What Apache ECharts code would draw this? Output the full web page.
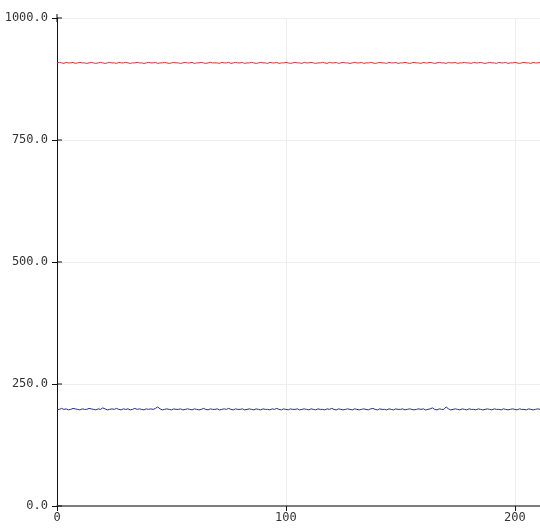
<!DOCTYPE html>
<html>
    <head>
        <meta charset="utf-8">
        <script src="https://cdn.jsdelivr.net/npm/echarts@6/dist/echarts.min.js"></script>
    </head>
    <body>
        <style>
            html, body, #main {
                width: 100%;
                height: 100%;
                margin: 0;
                background: #fff;
            }
        </style>
        <div id="main"></div>

        <script>
            // readings, one per sample (x = sample index)
            var redValues = [
                908,909,908,907,909,908,908,909,907,908,
                909,908,908,907,908,909,908,907,908,909,
                908,907,908,909,908,908,907,909,908,908,
                909,908,907,908,908,909,908,908,907,908,
                909,908,908,909,907,908,908,909,908,907,
                908,909,908,908,907,908,909,908,908,909,
                907,908,908,909,908,907,908,909,908,908,
                908,907,909,908,908,909,907,908,909,908,
                908,909,907,908,908,909,908,907,908,909,
                908,908,907,909,908,908,909,907,908,908,
                909,908,907,908,909,908,908,907,909,908,
                908,909,908,907,908,908,909,908,907,909,
                908,908,909,907,908,909,908,908,907,908,
                909,908,908,909,907,908,908,909,908,907,
                908,909,908,908,907,909,908,908,909,907,
                908,908,909,908,907,908,909,908,908,907,
                909,908,908,909,908,907,908,909,908,908,
                907,909,908,908,909,907,908,908,909,908,
                908,907,909,908,908,909,908,907,908,909,
                908,908,907,909,908,908,909,907,908,908,
                909,908,907,908,909,908,908,907,909,908,
                908,909
            ];

            var blueValues = [
                197,198,200,198,199,197,198,200,199,198,
                197,199,198,198,200,199,198,197,199,198,
                201,199,197,198,199,198,200,198,197,199,
                198,199,197,198,200,198,199,198,197,199,
                198,199,198,200,203,199,197,198,199,198,
                197,199,198,198,199,197,198,199,198,197,
                199,198,197,198,200,198,197,199,198,198,
                199,197,198,199,198,200,198,197,199,198,
                198,199,197,198,199,198,197,199,198,197,
                199,198,198,197,199,198,200,198,197,199,
                198,197,199,198,198,199,197,198,199,198,
                197,199,198,197,199,198,198,197,199,198,
                200,198,197,199,198,197,198,199,198,197,
                199,198,197,198,199,198,197,199,200,198,
                197,199,198,198,197,199,198,197,199,198,
                198,199,197,198,199,198,197,198,199,198,
                199,197,198,199,201,198,197,199,198,198,
                203,199,197,198,199,198,197,199,198,197,
                199,198,198,197,199,198,197,198,199,198,
                197,199,198,198,197,199,198,197,198,199,
                198,197,199,198,198,197,199,198,197,198,
                199,198
            ];

            var yTicks = [0, 250, 500, 750, 1000];
            var xMax = 211;
            var yMax = 1000;

            function toPoints(values) {
                return values.map(function (v, i) { return [i, v]; });
            }

            var chart = echarts.init(document.getElementById('main'));
            var labelFont = {
                fontFamily: 'DejaVu Sans Mono',
                fontSize: 12,
                color: '#333'
            };
            var tickColor = '#111';

            chart.setOption({
                animation: false,
                grid: {
                    left: 57,
                    right: 0,
                    top: 18,
                    bottom: 24,
                    outerBoundsMode: 'none',
                    containLabel: false
                },
                xAxis: {
                    type: 'value',
                    min: 0,
                    max: xMax,
                    interval: 100,
                    axisLine: { lineStyle: { color: '#555', width: 1.5 } },
                    axisTick: { length: 5, lineStyle: { color: tickColor } },
                    axisLabel: Object.assign({ margin: 6, showMaxLabel: false }, labelFont),
                    splitLine: { showMaxLine: false, lineStyle: { color: '#eeeeee' } }
                },
                yAxis: {
                    type: 'value',
                    min: 0,
                    max: yMax,
                    interval: 250,
                    axisLine: {
                        show: true,
                        symbol: ['none', 'rect'],
                        symbolSize: [1, 8],
                        lineStyle: { color: tickColor }
                    },
                    axisTick: { show: true, length: 5, lineStyle: { color: tickColor } },
                    axisLabel: Object.assign({
                        margin: 9,
                        formatter: function (v) { return v.toFixed(1); }
                    }, labelFont),
                    splitLine: { lineStyle: { color: '#eeeeee' } }
                },
                series: [{
                    name: 'red',
                    type: 'line',
                    data: toPoints(redValues),
                    showSymbol: false,
                    lineStyle: { color: '#d03232', width: 1 },
                    itemStyle: { color: '#d03232' }
                }, {
                    name: 'blue',
                    type: 'line',
                    data: toPoints(blueValues),
                    showSymbol: false,
                    lineStyle: { color: '#2a2a9e', width: 1 },
                    itemStyle: { color: '#2a2a9e' }
                }, {
                    // inner half of the y ticks, so they cross the axis line
                    type: 'custom',
                    silent: true,
                    clip: false,
                    data: yTicks.map(function (v) { return [0, v]; }),
                    renderItem: function (params, api) {
                        var p = api.coord([api.value(0), api.value(1)]);
                        return {
                            type: 'line',
                            shape: { x1: p[0], y1: p[1], x2: p[0] + 5, y2: p[1] },
                            style: { stroke: tickColor, lineWidth: 1 }
                        };
                    }
                }]
            });
        </script>
    </body>
</html>
